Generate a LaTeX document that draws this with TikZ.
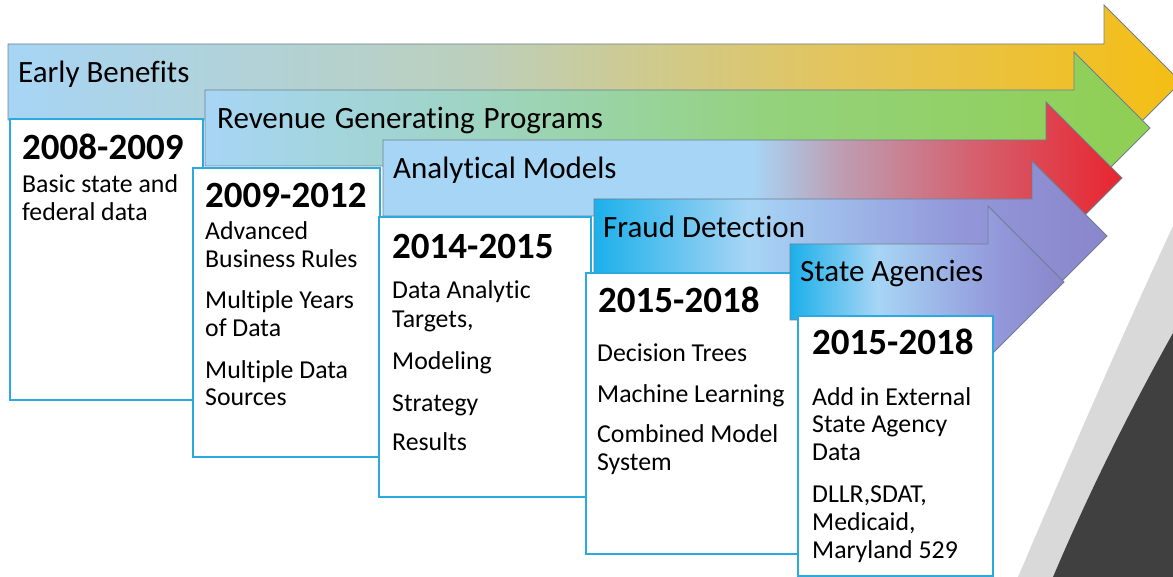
\documentclass[tikz,border=0pt]{standalone}
\usepackage{fontspec}
\setmainfont{Carlito}[Ligatures={NoCommon}]
\definecolor{boxblue}{HTML}{29ABE2}
\definecolor{arrline}{HTML}{6F7F8F}
\definecolor{lgray}{HTML}{D9D9D9}
\definecolor{dgray}{HTML}{404040}
\definecolor{lb}{HTML}{A7D5F5}
\definecolor{cyan1}{HTML}{1CB0EA}
\definecolor{a1b}{HTML}{BCCFBC}
\definecolor{a1c}{HTML}{E2C55E}
\definecolor{a1d}{HTML}{F5BE14}
\definecolor{a2b}{HTML}{9ED4C0}
\definecolor{a2c}{HTML}{94D27C}
\definecolor{a2d}{HTML}{8FCF52}
\definecolor{a3b}{HTML}{BE9DB2}
\definecolor{a3c}{HTML}{D5606E}
\definecolor{a3d}{HTML}{E8252F}
\definecolor{pu1}{HTML}{9398DA}
\definecolor{pu2}{HTML}{8A86CC}
\pgfdeclarehorizontalshading{shA}{100bp}{color(0bp)=(lb); color(25bp)=(lb); color(45bp)=(a1b); color(60bp)=(a1c); color(75bp)=(a1d); color(100bp)=(a1d)}
\pgfdeclarehorizontalshading{shB}{100bp}{color(0bp)=(lb); color(25bp)=(lb); color(40bp)=(a2b); color(55bp)=(a2c); color(75bp)=(a2d); color(100bp)=(a2d)}
\pgfdeclarehorizontalshading{shC}{100bp}{color(0bp)=(lb); color(25bp)=(lb); color(50bp)=(lb); color(56bp)=(a3b); color(65bp)=(a3c); color(75bp)=(a3d); color(100bp)=(a3d)}
\pgfdeclarehorizontalshading{shD}{100bp}{color(0bp)=(cyan1); color(25bp)=(cyan1); color(40bp)=(lb); color(60bp)=(pu1); color(75bp)=(pu2); color(100bp)=(pu2)}
\pgfdeclarehorizontalshading{shE}{100bp}{color(0bp)=(cyan1); color(25bp)=(cyan1); color(41bp)=(lb); color(63bp)=(pu1); color(75bp)=(pu2); color(100bp)=(pu2)}
\tikzset{
  arr/.style={draw=arrline, line width=0.8pt, line join=miter},
  yearbox/.style={draw=boxblue, fill=white, line width=2pt},
  ttl/.style={anchor=base west, inner sep=0pt, font=\fontsize{31}{36}\selectfont},
  yr/.style={anchor=base west, inner sep=0pt, font=\fontsize{37}{40}\selectfont\bfseries},
  bt/.style={anchor=base west, inner sep=0pt, font=\fontsize{25.8}{28}\selectfont},
}
\begin{document}
\begin{tikzpicture}[x=1pt,y=-1pt]
\useasboundingbox (0,0) rectangle (1173,577);
\clip (0,0) rectangle (1173,577);
% background grey bands
\fill[lgray] (1018,577) .. controls (1070,455) and (1120,340) .. (1173,226) -- (1173,577) -- cycle;
\fill[dgray] (1053,577) .. controls (1090,490) and (1130,410) .. (1173,333) -- (1173,577) -- cycle;
% arrow 1
\path[arr, shading=shA] (8,44) -- (1104,44) -- (1104,5) -- (1181,82) -- (1104,159) -- (1104,120) -- (8,120) -- cycle;
\node[ttl] (t1) at (18,83) {Early Benefits};
\draw[yearbox] (10,119) rectangle (203,400);
\node[yr] (y1) at (22,160) {2008-2009};
\node[bt] (b1a) at (22,193) {Basic state and};
\node[bt] (b1b) at (22,221) {federal data};
% arrow 2
\path[arr, shading=shB] (205,90) -- (1074,90) -- (1074,52) -- (1150,128) -- (1074,204) -- (1074,166) -- (205,166) -- cycle;
\node[ttl] (t2) at (217,129) {Revenue\hspace{2pt} Generating\hspace{2pt} Programs};
\draw[yearbox] (193,168) rectangle (380,457);
\node[yr] (y2) at (205,208) {2009-2012};
\node[bt] (b2a) at (205,240) {Advanced};
\node[bt] (b2b) at (205,268) {Business Rules};
\node[bt] (b2c) at (205,309) {Multiple Years};
\node[bt] (b2d) at (205,337) {of Data};
\node[bt] (b2e) at (205,378) {Multiple Data};
\node[bt] (b2f) at (205,405) {Sources};
% arrow 3
\path[arr, shading=shC] (383,140) -- (1046,140) -- (1046,102) -- (1122,178) -- (1046,254) -- (1046,216) -- (383,216) -- cycle;
\node[ttl] (t3) at (393,179) {Analytical Models};
\draw[yearbox] (379,217) rectangle (591,497);
\node[yr] (y3) at (392,259) {2014-2015};
\node[bt] (b3a) at (392,299) {Data Analytic};
\node[bt] (b3b) at (392,328) {Targets,};
\node[bt] (b3c) at (392,370) {Modeling};
\node[bt] (b3d) at (392,411) {Strategy};
\node[bt] (b3e) at (392,450) {Results};
% arrow 4
\path[arr, shading=shD] (594,199) -- (1032,199) -- (1032,161) -- (1107,236) -- (1032,311) -- (1032,273) -- (594,273) -- cycle;
\node[ttl] (t4) at (603,238) {Fraud Detection};
\draw[yearbox] (586,273) rectangle (798,554);
\node[yr] (y4) at (598,313) {2015-2018};
\node[bt] (b4a) at (597,362) {Decision Trees};
\node[bt] (b4b) at (597,402) {Machine Learning};
\node[bt] (b4c) at (597,442) {Combined Model};
\node[bt] (b4d) at (597,470) {System};
% arrow 5
\path[arr, shading=shE] (790,244) -- (988,244) -- (988,206) -- (1064,282) -- (988,358) -- (988,320) -- (790,320) -- cycle;
\node[ttl] (t5) at (800,282) {State Agencies};
\draw[yearbox] (798,316) rectangle (993,576);
\node[yr] (y5) at (812,355) {2015-2018};
\node[bt] (b5a) at (812,405) {Add in External};
\node[bt] (b5b) at (812,432) {State Agency};
\node[bt] (b5c) at (812,460) {Data};
\node[bt] (b5d) at (812,502) {DLLR,SDAT,};
\node[bt] (b5e) at (812,530) {Medicaid,};
\node[bt] (b5f) at (812,558) {Maryland 529};
\end{tikzpicture}
\end{document}
